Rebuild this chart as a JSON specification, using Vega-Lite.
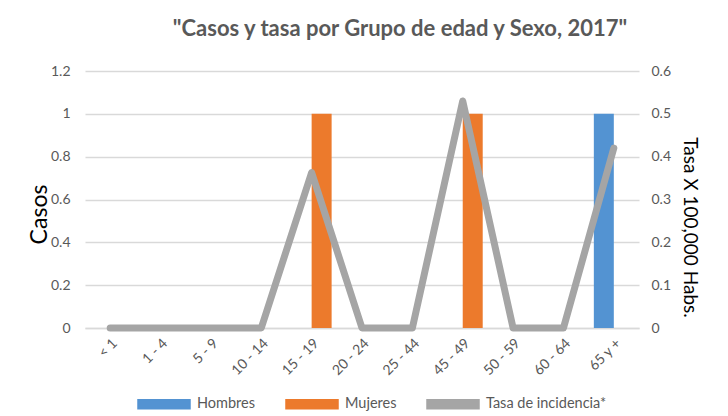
{
  "$schema": "https://vega.github.io/schema/vega-lite/v6.json",
  "width": 554,
  "height": 257,
  "autosize": "none",
  "padding": {"left": 85, "top": 71, "right": 89, "bottom": 88},
  "background": "#ffffff",
  "config": {"font": "Lato", "view": {"stroke": null}},
  "title": {
    "text": "\"Casos y tasa por Grupo de edad y Sexo, 2017\"",
    "fontSize": 22,
    "fontWeight": "bold",
    "color": "#595959",
    "anchor": "middle",
    "dx": 38,
    "offset": 23
  },
  "data": {
    "values": [
      {"grupo": "< 1", "serie": "Hombres", "valor": 0},
      {"grupo": "< 1", "serie": "Mujeres", "valor": 0},
      {"grupo": "< 1", "serie": "Tasa de incidencia*", "valor": 0},
      {"grupo": "1 - 4", "serie": "Hombres", "valor": 0},
      {"grupo": "1 - 4", "serie": "Mujeres", "valor": 0},
      {"grupo": "1 - 4", "serie": "Tasa de incidencia*", "valor": 0},
      {"grupo": "5 - 9", "serie": "Hombres", "valor": 0},
      {"grupo": "5 - 9", "serie": "Mujeres", "valor": 0},
      {"grupo": "5 - 9", "serie": "Tasa de incidencia*", "valor": 0},
      {"grupo": "10 - 14", "serie": "Hombres", "valor": 0},
      {"grupo": "10 - 14", "serie": "Mujeres", "valor": 0},
      {"grupo": "10 - 14", "serie": "Tasa de incidencia*", "valor": 0},
      {"grupo": "15 - 19", "serie": "Hombres", "valor": 0},
      {"grupo": "15 - 19", "serie": "Mujeres", "valor": 1},
      {"grupo": "15 - 19", "serie": "Tasa de incidencia*", "valor": 0.363},
      {"grupo": "20 - 24", "serie": "Hombres", "valor": 0},
      {"grupo": "20 - 24", "serie": "Mujeres", "valor": 0},
      {"grupo": "20 - 24", "serie": "Tasa de incidencia*", "valor": 0},
      {"grupo": "25 - 44", "serie": "Hombres", "valor": 0},
      {"grupo": "25 - 44", "serie": "Mujeres", "valor": 0},
      {"grupo": "25 - 44", "serie": "Tasa de incidencia*", "valor": 0},
      {"grupo": "45 - 49", "serie": "Hombres", "valor": 0},
      {"grupo": "45 - 49", "serie": "Mujeres", "valor": 1},
      {"grupo": "45 - 49", "serie": "Tasa de incidencia*", "valor": 0.53},
      {"grupo": "50 - 59", "serie": "Hombres", "valor": 0},
      {"grupo": "50 - 59", "serie": "Mujeres", "valor": 0},
      {"grupo": "50 - 59", "serie": "Tasa de incidencia*", "valor": 0},
      {"grupo": "60 - 64", "serie": "Hombres", "valor": 0},
      {"grupo": "60 - 64", "serie": "Mujeres", "valor": 0},
      {"grupo": "60 - 64", "serie": "Tasa de incidencia*", "valor": 0},
      {"grupo": "65 y +", "serie": "Hombres", "valor": 1},
      {"grupo": "65 y +", "serie": "Mujeres", "valor": 0},
      {"grupo": "65 y +", "serie": "Tasa de incidencia*", "valor": 0.42}
    ]
  },
  "encoding": {
    "x": {
      "field": "grupo",
      "type": "nominal",
      "sort": ["< 1", "1 - 4", "5 - 9", "10 - 14", "15 - 19", "20 - 24", "25 - 44", "45 - 49", "50 - 59", "60 - 64", "65 y +"],
      "scale": {"paddingInner": 0, "paddingOuter": 0},
      "axis": {
        "title": null,
        "labelAngle": -45,
        "labelFontSize": 14,
        "labelColor": "#595959",
        "labelPadding": 8,
        "ticks": false,
        "domain": true,
        "domainColor": "#D9D9D9",
        "domainWidth": 1.5
      }
    }
  },
  "layer": [
    {
      "transform": [{"filter": "datum.serie !== 'Tasa de incidencia*'"}],
      "mark": {"type": "bar"},
      "encoding": {
        "xOffset": {
          "field": "serie",
          "type": "nominal",
          "sort": ["Hombres", "Mujeres"],
          "scale": {"paddingInner": 0, "paddingOuter": 0.26}
        },
        "y": {
          "field": "valor",
          "type": "quantitative",
          "scale": {"domain": [0, 1.2]},
          "axis": {
            "orient": "left",
            "values": [0, 0.2, 0.4, 0.6, 0.8, 1, 1.2],
            "format": "~g",
            "labelFontSize": 14,
            "labelColor": "#595959",
            "labelPadding": 15,
            "ticks": false,
            "domain": false,
            "grid": true,
            "gridColor": "#D9D9D9",
            "gridWidth": 1.5,
            "title": "Casos",
            "titleFontSize": 23,
            "titleFontWeight": "normal",
            "titleColor": "#000000",
            "titleBaseline": "alphabetic",
            "titleX": -39,
            "titleY": 143
          }
        },
        "color": {
          "field": "serie",
          "type": "nominal",
          "scale": {
            "domain": ["Hombres", "Mujeres", "Tasa de incidencia*"],
            "range": ["#5393D2", "#EC7A2C", "#A5A5A5"]
          },
          "legend": {
            "orient": "none",
            "legendX": 52,
            "legendY": 306,
            "direction": "horizontal",
            "title": null,
            "symbolType": "M-1,-0.17L1,-0.17L1,0.17L-1,0.17Z",
            "symbolSize": 2704,
            "labelFontSize": 14.5,
            "labelColor": "#595959",
            "labelOffset": 6,
            "columnPadding": 27,
            "encode": {
              "symbols": {
                "update": {
                  "fill": {"scale": "color", "field": "value"},
                  "stroke": {"value": "transparent"},
                  "opacity": {"value": 1}
                }
              }
            }
          }
        }
      }
    },
    {
      "transform": [{"filter": "datum.serie === 'Tasa de incidencia*'"}],
      "mark": {"type": "line", "strokeWidth": 7, "strokeCap": "round", "strokeJoin": "round"},
      "encoding": {
        "y": {
          "field": "valor",
          "type": "quantitative",
          "scale": {"domain": [0, 0.6]},
          "axis": {
            "orient": "right",
            "values": [0, 0.1, 0.2, 0.3, 0.4, 0.5, 0.6],
            "format": "~g",
            "labelFontSize": 14,
            "labelColor": "#595959",
            "labelPadding": 12,
            "ticks": false,
            "domain": false,
            "grid": false,
            "title": "Tasa X 100,000 Habs.",
            "titleFontSize": 19,
            "titleFontWeight": "normal",
            "titleColor": "#000000",
            "titleAngle": 90,
            "titleBaseline": "alphabetic",
            "titleX": 44,
            "titleY": 156
          }
        },
        "color": {
          "field": "serie",
          "type": "nominal",
          "scale": {
            "domain": ["Hombres", "Mujeres", "Tasa de incidencia*"],
            "range": ["#5393D2", "#EC7A2C", "#A5A5A5"]
          },
          "legend": {
            "orient": "none",
            "legendX": 52,
            "legendY": 306,
            "direction": "horizontal",
            "title": null,
            "symbolType": "M-1,-0.17L1,-0.17L1,0.17L-1,0.17Z",
            "symbolSize": 2704,
            "labelFontSize": 14.5,
            "labelColor": "#595959",
            "labelOffset": 6,
            "columnPadding": 27,
            "encode": {
              "symbols": {
                "update": {
                  "fill": {"scale": "color", "field": "value"},
                  "stroke": {"value": "transparent"},
                  "opacity": {"value": 1}
                }
              }
            }
          }
        }
      }
    }
  ],
  "resolve": {"scale": {"y": "independent"}}
}
